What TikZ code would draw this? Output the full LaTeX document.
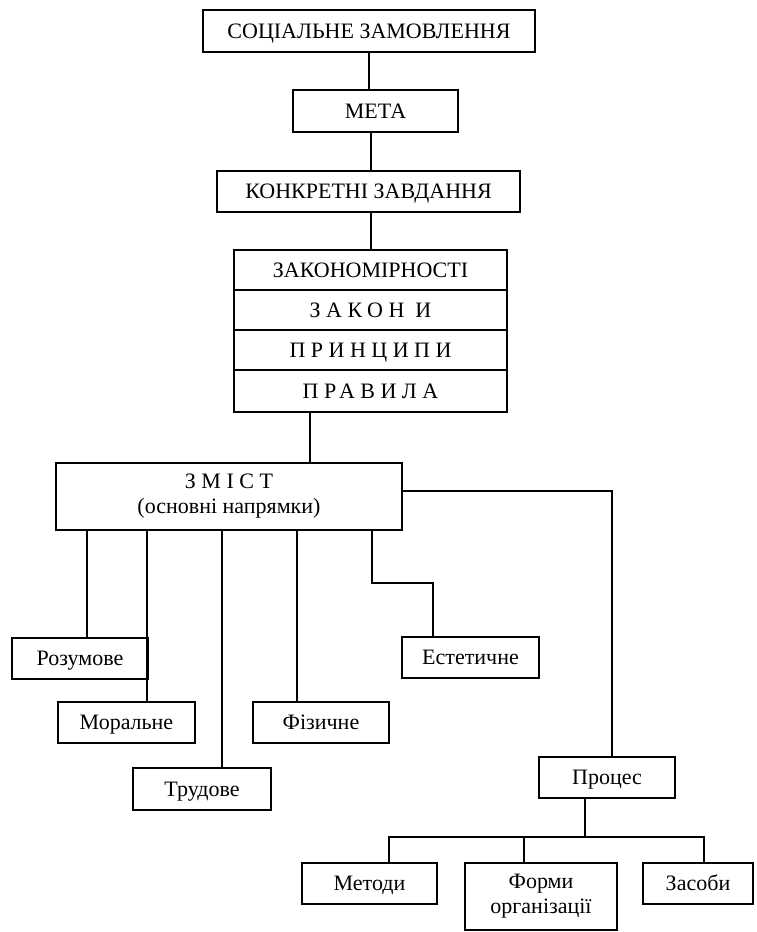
\documentclass[tikz,border=0pt]{standalone}
\usepackage{fontspec}
\setmainfont{Liberation Serif}
\newfontfamily\spacedfont[LetterSpace=25]{Liberation Serif}
\begin{document}
\begin{tikzpicture}[x=1pt,y=-1pt,
  every node/.style={font=\fontsize{22}{25}\selectfont},
  box/.style={draw, line width=1.1pt, inner sep=0pt, align=center},
  one/.style={box, text height=14.5pt, text depth=0pt},
  link/.style={line width=1.1pt}]
\useasboundingbox (0,0) rectangle (756,932);
% boxes
\node[one, minimum width=332pt, minimum height=42pt] (soc) at (369,31) {СОЦІАЛЬНЕ ЗАМОВЛЕННЯ};
\node[one, minimum width=165pt, minimum height=42pt] (meta) at (375.5,111) {МЕТА};
\node[one, minimum width=303pt, minimum height=41pt] (konk) at (368.5,191.5) {КОНКРЕТНІ ЗАВДАННЯ};
\node[one, minimum width=273pt, minimum height=40pt] (zak1) at (370.5,270) {ЗАКОНОМІРНОСТІ};
\node[one, minimum width=273pt, minimum height=40pt] (zak2) at (370.5,310) {\spacedfont ЗАКОН И};
\node[one, minimum width=273pt, minimum height=40pt] (zak3) at (370.5,350) {\spacedfont ПРИНЦИПИ};
\node[one, minimum width=273pt, minimum height=42pt] (zak4) at (370.5,391) {\spacedfont ПРАВИЛА};
\node[box, minimum width=346pt, minimum height=67pt] (zmist) at (229,496.5) {{\spacedfont ЗМІСТ}\\(основні напрямки)};
\node[one, minimum width=136pt, minimum height=41pt] (rozum) at (80,658.5) {Розумове};
\node[one, minimum width=137pt, minimum height=41pt] (moral) at (126.5,722.5) {Моральне};
\node[one, minimum width=136pt, minimum height=41pt] (fiz) at (321,722.5) {Фізичне};
\node[one, minimum width=138pt, minimum height=42pt] (trud) at (202,789) {Трудове};
\node[one, minimum width=137pt, minimum height=41pt] (estet) at (470.5,657.5) {Естетичне};
\node[one, minimum width=136pt, minimum height=41pt] (proc) at (607,777.5) {Процес};
\node[one, minimum width=135pt, minimum height=41pt] (metody) at (369.5,883.5) {Методи};
\node[box, minimum width=152pt, minimum height=67pt] (formy) at (541,896.5) {Форми\\організації};
\node[one, minimum width=110pt, minimum height=41pt] (zasoby) at (698,883.5) {Засоби};
% helper coordinates
\coordinate (x369) at (369,0);
\coordinate (x371) at (371,0);
\coordinate (x310) at (310,0);
\coordinate (x87) at (87,0);
\coordinate (x147) at (147,0);
\coordinate (x222) at (222,0);
\coordinate (x297) at (297,0);
\coordinate (x372) at (372,0);
\coordinate (j1) at (433,583);
\coordinate (r1) at (612,491);
\coordinate (x585) at (585,0);
\coordinate (b0) at (585,837);
\coordinate (b1) at (389,837);
\coordinate (b2) at (524,837);
\coordinate (b3) at (704,837);
% connectors
\draw[link] (soc.south -| x369) -- (meta.north -| x369);
\draw[link] (meta.south -| x371) -- (konk.north -| x371);
\draw[link] (konk.south -| x371) -- (zak1.north -| x371);
\draw[link] (zak4.south -| x310) -- (zmist.north -| x310);
\draw[link] (zmist.south -| x87) -- (rozum.north -| x87);
\draw[link] (zmist.south -| x147) -- (moral.north -| x147);
\draw[link] (zmist.south -| x222) -- (trud.north -| x222);
\draw[link] (zmist.south -| x297) -- (fiz.north -| x297);
\draw[link] (zmist.south -| x372) |- (j1) -- (estet.north -| j1);
\draw[link] (zmist.east |- r1) -- (r1) -- (proc.north -| r1);
\draw[link] (proc.south -| x585) -- (b0);
\draw[link] (metody.north -| b1) -- (b1) -- (b3) -- (zasoby.north -| b3);
\draw[link] (b2) -- (formy.north -| b2);
\end{tikzpicture}
\end{document}
